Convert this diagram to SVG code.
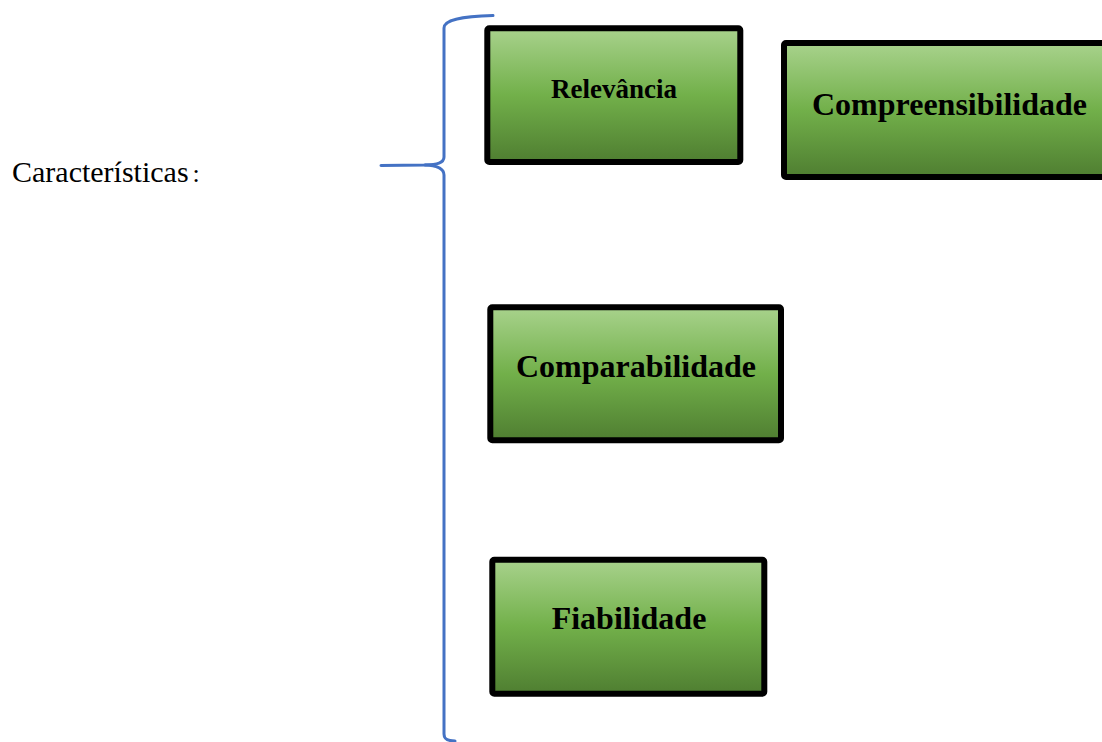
<svg xmlns="http://www.w3.org/2000/svg" width="1102" height="742" viewBox="0 0 1102 742">
  <defs>
    <linearGradient id="g" x1="0" y1="0" x2="0" y2="1">
      <stop offset="0" stop-color="#A8D28C"/>
      <stop offset="0.5" stop-color="#72B04A"/>
      <stop offset="1" stop-color="#4F7E31"/>
    </linearGradient>
    <style>
      .box { fill: url(#g); stroke: #000; stroke-width: 6; }
      .lbl { font-family: "Liberation Serif", "Times New Roman", serif; font-weight: bold; fill: #000; text-anchor: middle; }
      .plain { font-family: "Liberation Serif", "Times New Roman", serif; fill: #000; }
      .brace { fill: none; stroke: #4472C4; stroke-width: 3; stroke-linecap: round; }
    </style>
  </defs>
  <rect width="1102" height="742" fill="#fff"/>
  <g id="titulo">
    <text class="plain" x="12" y="182" font-size="30">Características<tspan dx="4" font-size="26">:</tspan></text>
  </g>
  <g id="connectors">
    <path class="brace" d="M381,165.5 L425,165 C437,164.5 444,163 444,157 L444,28 C444,20 460,16.5 493,15.5"/>
    <path class="brace" d="M425,165 C437,165.5 444,168 444,175 L444,734 C444,739 447,741 455,741"/>
  </g>
  <g id="relevancia">
    <rect class="box" x="487.3" y="28.3" width="253" height="133.7" rx="2"/>
    <text class="lbl" x="614" y="98" font-size="27">Relevância</text>
  </g>
  <g id="compreensibilidade">
    <rect class="box" x="784" y="43" width="334" height="134" rx="2"/>
    <text class="lbl" x="949.5" y="115" font-size="32">Compreensibilidade</text>
  </g>
  <g id="comparabilidade">
    <rect class="box" x="490.3" y="307.3" width="290.7" height="133" rx="2"/>
    <text class="lbl" x="636" y="377" font-size="32">Comparabilidade</text>
  </g>
  <g id="fiabilidade">
    <rect class="box" x="492.3" y="559.7" width="272" height="134" rx="2"/>
    <text class="lbl" x="629" y="629" font-size="32">Fiabilidade</text>
  </g>
</svg>
